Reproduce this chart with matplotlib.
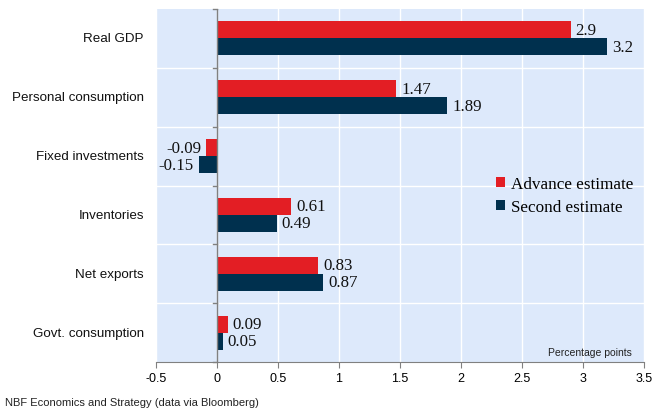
import matplotlib
matplotlib.use("Agg")
import matplotlib.pyplot as plt
import numpy as np

categories = ["Real GDP", "Personal consumption", "Fixed investments",
              "Inventories", "Net exports", "Govt. consumption"]
advance = [2.9, 1.47, -0.09, 0.61, 0.83, 0.09]
second = [3.2, 1.89, -0.15, 0.49, 0.87, 0.05]
advance_labels = ["2.9", "1.47", "-0.09", "0.61", "0.83", "0.09"]
second_labels = ["3.2", "1.89", "-0.15", "0.49", "0.87", "0.05"]
xticks = [-0.5, 0, 0.5, 1, 1.5, 2, 2.5, 3, 3.5]
xticklabels = ["-0.5", "0", "0.5", "1", "1.5", "2", "2.5", "3", "3.5"]

red = "#e31e24"
navy = "#00304e"
bg = "#dde9fb"

fig = plt.figure(figsize=(6.55, 4.10), dpi=100)
ax = fig.add_axes([0.238, 0.1146, 0.745, 0.861])
ax.set_facecolor(bg)

n = len(categories)
y = np.arange(n)
h = 0.29
ax.barh(y - h / 2, advance, height=h, color=red, label="Advance estimate", zorder=3)
ax.barh(y + h / 2, second, height=h, color=navy, label="Second estimate", zorder=3)

serif = ["Liberation Serif", "DejaVu Serif"]
for yi, v, lab in zip(y - h / 2, advance, advance_labels):
    off = 3.5 if v >= 0 else -3.5
    ax.annotate(lab, (v, yi), xytext=(off, 0), textcoords="offset points",
                ha="left" if v >= 0 else "right", va="center",
                fontsize=12.2, family=serif, color="#111111", zorder=4)
for yi, v, lab in zip(y + h / 2, second, second_labels):
    off = 3.5 if v >= 0 else -3.5
    ax.annotate(lab, (v, yi), xytext=(off, 0), textcoords="offset points",
                ha="left" if v >= 0 else "right", va="center",
                fontsize=12.2, family=serif, color="#111111", zorder=4)

ax.set_xlim(-0.5, 3.5)
ax.set_ylim(n - 0.5, -0.5)
ax.set_xticks(xticks)
ax.set_xticklabels(xticklabels, fontsize=9, family="Liberation Sans")
ax.grid(axis="x", color="white", linewidth=1, zorder=0)

# horizontal separators between categories
for b in np.arange(0.5, n - 0.5, 1):
    ax.axhline(b, color="white", linewidth=1, zorder=0)

ax.set_yticks([])
for yi, c in zip(y, categories):
    ax.text(-0.598, yi, c, ha="right", va="center", fontsize=9.6,
            family="Liberation Sans", color="#111111", transform=ax.transData,
            clip_on=False)

# zero axis line and small ticks at category boundaries
ax.axvline(0, color="#808080", linewidth=1, zorder=5)
for b in np.arange(-0.5, n, 1):
    ax.plot([-0.035, 0], [b, b], color="#808080", linewidth=1, zorder=5,
            clip_on=False)

for s in ["top", "right", "left"]:
    ax.spines[s].set_visible(False)
ax.spines["bottom"].set_color("#808080")
ax.tick_params(axis="x", color="#808080", length=4, pad=3)

leg = ax.legend(loc="upper left", bbox_to_anchor=(0.665, 0.57), frameon=False,
                prop={"family": serif, "size": 12.3}, handlelength=0.55,
                handleheight=0.55, handletextpad=0.35, labelspacing=0.42)

ax.text(0.975, 0.015, "Percentage points", transform=ax.transAxes,
        ha="right", va="bottom", fontsize=7.5, family="Liberation Sans",
        color="#222222")

fig.text(0.007, 0.005, "NBF Economics and Strategy (data via Bloomberg)",
         ha="left", va="bottom", fontsize=8, family="Liberation Sans",
         color="#222222")

fig.savefig("out.png", dpi=100)
